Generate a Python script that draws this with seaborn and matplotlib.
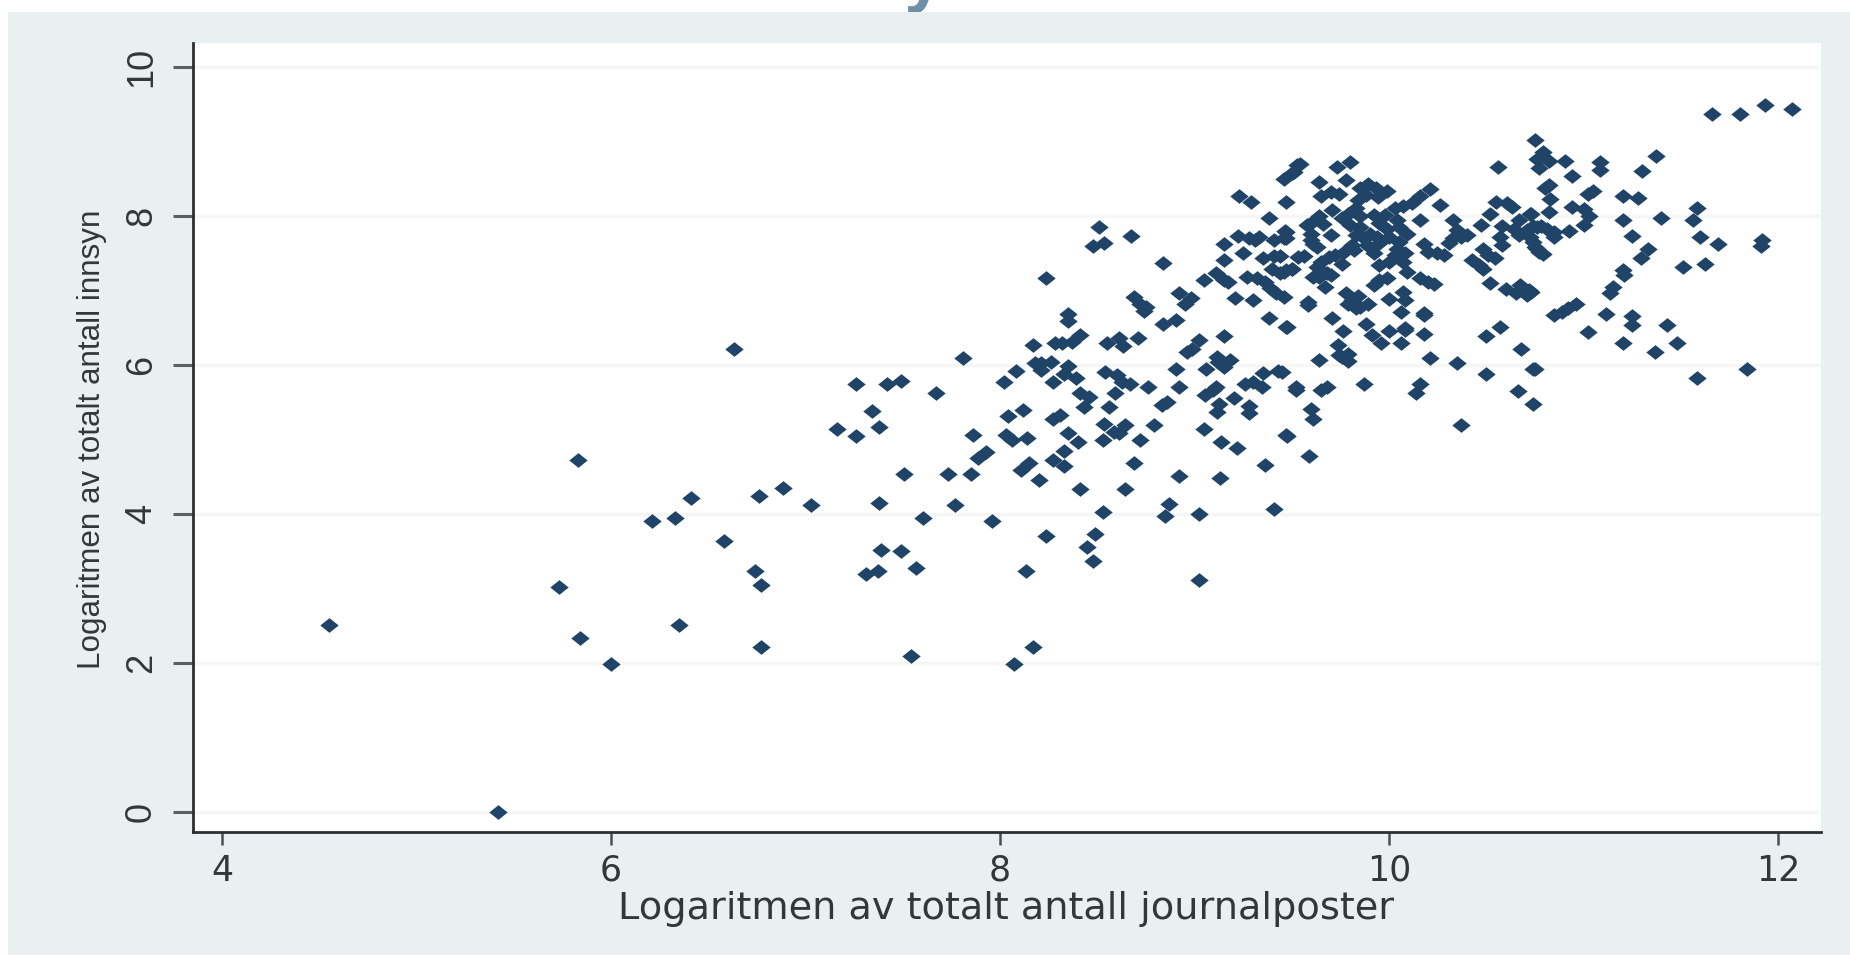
import matplotlib
matplotlib.use("Agg")
import matplotlib.pyplot as plt
from matplotlib.patches import Rectangle
from matplotlib.path import Path
import numpy as np
import pandas as pd
import seaborn as sns

x_label = "Logaritmen av totalt antall journalposter"
y_label = "Logaritmen av totalt antall innsyn"
x_ticks = [4, 6, 8, 10, 12]
y_ticks = [0, 2, 4, 6, 8, 10]

x_low = [4.55,5.42,5.73,5.83,5.84,6.00,6.21,6.33,6.35,6.41,6.58,6.63,6.74,6.76,6.77,6.77,6.885,7.03,7.16,7.26,7.26,7.31,7.34,7.37,7.375,7.376,7.39,7.42,7.49,7.49,7.505,7.54,7.566,7.606,7.668,7.73,7.77,7.81,7.85,7.86,7.885,7.93,7.96]
y_low = [2.51,0.00,3.02,4.72,2.33,1.98,3.91,3.94,2.51,4.21,3.64,6.21,3.23,4.24,3.04,2.21,4.35,4.12,5.14,5.74,5.05,3.20,5.38,3.23,5.17,4.15,3.52,5.74,5.79,3.50,4.54,2.09,3.28,3.94,5.62,4.54,4.12,6.09,4.54,5.06,4.75,4.83,3.91]

x_a = [8.02,8.03,8.04,8.06,8.07,8.08,8.11,8.12,8.135,8.14,8.15,8.17,8.17,8.18,8.20,8.21,8.21,8.235,8.235,8.26,8.27,8.27,8.27,8.28,8.31,8.32,8.33,8.33,8.33,8.35,8.35,8.35,8.35,8.37,8.39,8.40,8.41,8.41,8.41,8.43,8.445,8.455,8.48,8.48,8.49]
y_a = [5.77,5.06,5.32,4.99,1.98,5.92,4.59,5.40,3.23,5.02,4.68,2.21,6.27,6.02,4.45,6.02,5.93,7.16,3.70,6.04,4.73,5.77,5.27,6.30,5.33,6.30,4.65,4.84,5.88,5.09,5.99,6.69,6.59,6.31,5.82,4.96,6.40,5.62,4.33,5.44,3.55,5.57,3.37,7.60,3.73]

x_b = [8.51,8.53,8.53,8.535,8.535,8.54,8.55,8.56,8.587,8.59,8.60,8.61,8.61,8.625,8.63,8.64,8.64,8.67,8.675,8.69,8.69,8.71,8.72,8.72,8.74,8.75,8.76,8.79,8.84,8.84,8.85,8.83,8.86,8.87,8.905,8.905,8.92,8.92,8.92,8.95,8.96,8.98,8.985]
y_b = [7.85,4.03,4.99,7.64,5.21,5.91,6.29,5.43,5.10,5.62,5.86,6.36,5.08,5.77,6.26,5.20,4.33,5.74,7.73,6.91,4.69,6.36,4.99,6.82,6.73,6.78,5.70,5.20,7.37,6.55,3.97,5.46,5.50,4.13,6.60,5.94,5.70,6.96,4.51,6.82,6.175,6.90,6.22]

x_c = [9.02,9.02,9.02,9.05,9.05,9.06,9.055,9.095,9.11,9.11,9.114,9.115,9.12,9.125,9.135,9.13,9.15,9.15,9.15,9.15,9.15,9.17,9.18,9.20,9.21,9.225,9.22,9.23,9.25,9.26,9.27,9.28,9.28,9.28,9.29,9.30,9.30,9.31,9.32,9.33,9.345,9.35,9.354,9.36,9.36,9.38,9.38,9.39,9.40,9.41,9.41,9.41,9.42,9.43]
y_c = [6.34,4.00,3.11,7.14,5.14,5.94,5.60,5.66,5.71,7.23,6.11,5.37,6.04,5.48,4.97,4.48,7.14,7.41,7.62,6.39,5.97,7.115,6.06,5.56,6.90,7.73,4.88,8.27,7.50,5.75,7.18,7.70,5.45,5.35,8.18,6.87,5.77,7.67,7.17,7.71,5.70,5.89,7.44,7.115,4.66,7.965,6.63,7.03,7.29,7.46,7.67,4.06,6.96,5.915]

x_d = [9.46,9.46,9.46,9.465,9.46,9.47,9.47,9.47,9.50,9.50,9.52,9.525,9.53,9.54,9.51,9.64,9.78,9.80,9.73,9.70,9.65,9.74,9.47,9.47,9.56,9.44,9.475,9.705,9.765,9.88,9.91,9.96,10.0,10.08,10.08,10.06,9.735,9.64,9.74,9.79,9.79,9.76,9.45,9.52,9.68,9.65,9.87,9.60,9.61,9.475,9.59,9.585,9.585]
y_d = [6.91,7.25,7.70,7.795,8.50,8.18,6.51,5.06,7.29,8.57,5.70,8.68,7.45,8.70,8.59,8.45,8.48,8.72,8.66,8.32,8.265,8.29,7.79,7.70,7.46,7.46,6.51,6.635,6.45,6.55,6.40,6.30,6.45,6.50,6.47,6.30,6.27,6.07,6.13,6.15,6.05,6.11,5.91,5.67,5.70,5.67,5.74,5.41,5.28,5.05,4.78,6.80,6.84]

x_core1 = [9.89,9.85,9.93,9.99,9.88,9.945,9.84,9.83,9.79,9.76,9.85,9.92,9.98,10.04,9.95,9.80,9.85,9.90,9.99,10.05,10.09,9.83,9.87,9.94,10.0,10.05,9.81,9.885,9.95,10.04,10.08,9.92,10.03,10.07,10.0,9.95,10.09]
y_core1 = [8.43,8.37,8.37,8.34,8.28,8.255,8.21,8.10,8.03,7.965,8.00,8.01,8.01,7.94,7.90,7.88,7.85,7.76,7.83,7.85,7.76,7.74,7.70,7.72,7.72,7.65,7.61,7.61,7.63,7.56,7.50,7.50,7.47,7.38,7.38,7.34,7.25]

x_core2 = [10.21,10.16,10.12,10.07,10.03,10.26,10.16,9.70,9.705,9.64,9.60,9.66,9.58,9.60,9.60,9.63,9.61,9.72,9.77,9.69,9.65,9.63,9.76,9.68,9.64,9.61,9.70,9.82,9.67,9.47,9.44,9.50]
y_core2 = [8.36,8.265,8.17,8.13,8.11,8.15,7.94,7.74,8.08,8.00,7.90,7.89,7.875,7.76,7.67,7.58,7.62,7.47,7.52,7.45,7.38,7.32,7.36,7.23,7.18,7.18,7.20,7.54,7.05,7.27,7.23,7.29]

x_e = [9.78,9.81,9.84,9.85,9.89,9.79,9.83,9.95,9.92,9.99,10.0,10.07,10.08,10.06,10.18,10.18,10.20,10.245,10.28,10.16,10.20,10.23,10.33,10.35,10.33,10.37,10.31,10.40,10.47,10.52,10.55,10.605,10.63,10.58,10.665,10.64,10.71,10.67,10.76,10.725,10.57,10.58,10.725,10.75,10.77,10.48,10.51,10.545,10.425,10.46,10.485,10.52,10.60,10.65,10.675,10.72,10.71]
y_e = [6.96,6.87,6.93,6.78,6.82,6.82,6.76,7.14,7.07,7.16,6.89,6.98,6.87,6.71,6.67,7.62,7.52,7.50,7.47,7.16,7.11,7.09,7.94,7.81,7.70,7.72,7.63,7.74,7.88,8.03,8.19,8.17,8.12,7.87,7.94,7.83,7.81,7.74,7.85,8.03,7.72,7.61,7.72,7.58,7.52,7.56,7.47,7.43,7.41,7.34,7.29,7.10,7.02,6.96,7.07,7.00,6.94]

x_f = [10.18,10.21,10.35,10.50,10.50,10.57,10.68,10.74,10.66,10.74,10.16,10.14,10.37,10.56,10.75,10.76,10.77,10.79,10.775,10.82,10.905,10.94,11.085,11.085,11.37,11.30,10.82,10.80,10.825,11.05,11.02,11.20,11.28,10.94,11.00,11.025,11.00,10.82,10.73,11.20,11.40]
y_f = [6.42,6.09,6.03,5.88,6.39,6.51,6.21,5.94,5.65,5.47,5.74,5.62,5.20,8.66,9.02,8.77,8.64,8.86,8.77,8.73,8.73,8.53,8.72,8.62,8.81,8.60,8.41,8.37,8.23,8.34,8.29,8.27,8.24,8.12,8.09,8.00,7.875,8.05,8.03,7.94,7.97]

x_g = [11.58,11.56,10.925,10.85,10.845,10.81,10.78,10.74,11.25,11.60,11.69,11.916,11.91,10.74,10.76,10.79,11.33,11.295,11.51,11.625,11.20,11.205,11.15,11.135,10.73,10.96,10.92,10.89,10.85,11.115,11.25,11.25,11.43,11.02,11.20,11.48,11.365,10.75,11.84,11.58,11.66,11.805,11.93,12.07,10.18]
y_g = [8.10,7.94,7.80,7.72,7.79,7.83,7.87,7.86,7.73,7.72,7.62,7.67,7.60,7.65,7.56,7.49,7.55,7.44,7.32,7.35,7.27,7.20,7.05,6.97,6.98,6.82,6.76,6.71,6.67,6.69,6.65,6.53,6.54,6.44,6.30,6.30,6.17,5.94,5.94,5.82,9.365,9.365,9.486,9.43,6.70]

xs = x_low + x_a + x_b + x_c + x_d + x_core1 + x_core2 + x_e + x_f + x_g
ys = y_low + y_a + y_b + y_c + y_d + y_core1 + y_core2 + y_e + y_f + y_g
df = pd.DataFrame({"journal": xs, "innsyn": ys})

W, H = 1850, 955
sns.set_theme(style="white")
plt.rcParams["font.family"] = ["Liberation Sans", "DejaVu Sans"]
fig = plt.figure(figsize=(W / 100, H / 100), dpi=100, facecolor="white")

fig.text(923 / W, 1 + 2 / H, "y", fontsize=46, fontweight="bold", family="Open Sans",
         color="#6F8FA8", ha="center", va="baseline", zorder=0)
fig.add_artist(Rectangle((8 / W, 0), 1 - 8 / W, 1 - 12.5 / H, transform=fig.transFigure,
                         facecolor="#E9F0F2", edgecolor="none", zorder=1))

ax = fig.add_axes([193 / W, (H - 832) / H, 1628 / W, 789 / H], facecolor="white", zorder=2)
diamond = Path([(-1, 0), (0, 0.8), (1, 0), (0, -0.8), (-1, 0)], closed=True)
sns.scatterplot(data=df, x="journal", y="innsyn", ax=ax, marker=diamond, s=175,
                color="#1F4468", linewidth=0, zorder=3, clip_on=False)

ax.set_xlim(3.851, 12.22)
ax.set_ylim(-0.268, 10.32)
ax.set_xticks(x_ticks)
ax.set_yticks(y_ticks)
ax.grid(axis="y", color="#F6F6F5", lw=2.5)
ax.set_axisbelow(True)
for side in ("top", "right"):
    ax.spines[side].set_visible(False)
for side in ("left", "bottom"):
    ax.spines[side].set_color("#2B3034")
    ax.spines[side].set_linewidth(2)
ax.tick_params(axis="x", length=9.5, width=1.8, color="#4A4F52", pad=6, labelsize=25,
               labelcolor="#33373A", bottom=True)
ax.tick_params(axis="y", length=14.5, width=2.2, color="#5A5F62", pad=10, labelsize=26,
               labelcolor="#33373A", left=True)
for t in ax.get_xticklabels():
    t.set_family("DejaVu Sans")
for t in ax.get_yticklabels():
    t.set_family("Liberation Sans")
    t.set_rotation(90)
    t.set_va("center")
ax.set_xlabel(x_label, fontsize=27.5, family="DejaVu Sans", color="#33373A", va="top")
ax.set_ylabel(y_label, fontsize=22.6, family="Liberation Sans", color="#33373A", va="bottom")
ax.xaxis.set_label_coords(0.4994, -0.075)
ax.yaxis.set_label_coords(-0.053, 0.498)

fig.savefig("out.png", dpi=100, facecolor="white")
